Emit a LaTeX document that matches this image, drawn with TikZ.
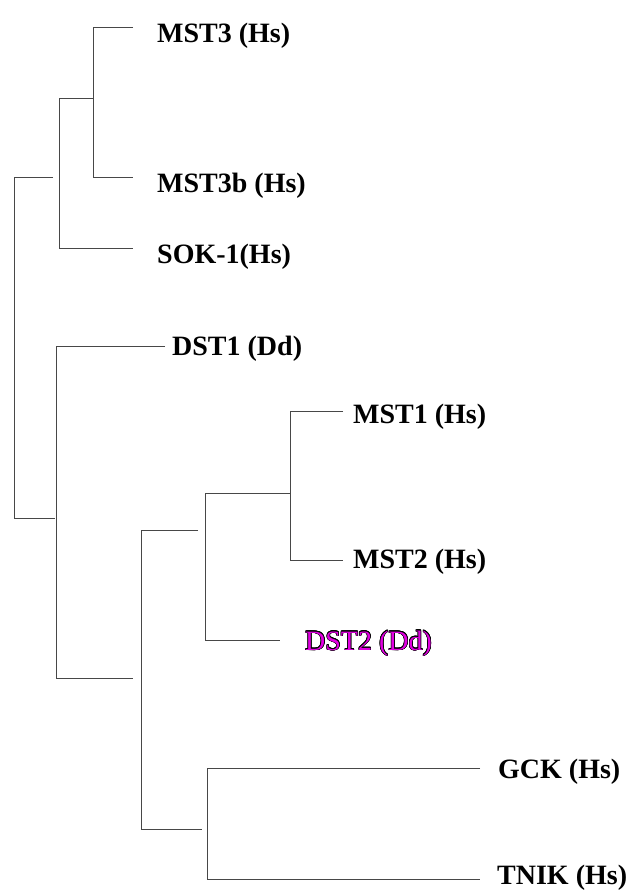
\documentclass[tikz,border=0pt]{standalone}
\usepackage{fontspec}
\setmainfont{Liberation Serif}
\usepackage[copies]{contour}
\contourlength{0.55pt}
\definecolor{dstmag}{RGB}{225,0,225}
\begin{document}
\begin{tikzpicture}[x=1pt,y=-1pt,
  branch/.style={draw=black!72, line width=0.85pt},
  leaf/.style={anchor=base west, inner sep=0pt, font=\fontsize{28}{30}\selectfont\bfseries}]
\useasboundingbox (0,0) rectangle (627,892);

% leaf labels
\node[leaf] (mst3)  at (157,42)  {MST3 (Hs)};
\node[leaf] (mst3b) at (157,192) {MST3b (Hs)};
\node[leaf] (sok1)  at (157,263) {SOK-1(Hs)};
\node[leaf] (dst1)  at (172,355) {DST1 (Dd)};
\node[leaf] (mst1)  at (353,423) {MST1 (Hs)};
\node[leaf] (mst2)  at (353,568) {MST2 (Hs)};
\node[leaf, font=\fontsize{28}{30}\selectfont, text=dstmag] (dst2) at (305,650) {\contour{black}{DST2 (Dd)}};
\node[leaf] (gck)   at (498,778) {GCK (Hs)};
\node[leaf] (tnik)  at (497,884) {TNIK (Hs)};

% branch tips
\coordinate (t3)    at (133,27);
\coordinate (t3b)   at (133,177);
\coordinate (tsok)  at (133,248);
\coordinate (tdst1) at (165,346);
\coordinate (tm1)   at (343,411);
\coordinate (tm2)   at (343,560);
\coordinate (tdst2) at (280,640);
\coordinate (tgck)  at (480,768);
\coordinate (ttnik) at (480,879);

% internal corners and stems
\coordinate (c1) at (93,177);
\coordinate (j1) at (93,98);
\coordinate (c2) at (59,248);
\coordinate (s2) at (53,177);
\coordinate (r)  at (14,518);
\coordinate (s3) at (55,518);
\coordinate (c3) at (56,678);
\coordinate (s4) at (133,678);
\coordinate (s5) at (198,530);
\coordinate (c4) at (141,829);
\coordinate (s7) at (202,829);
\coordinate (j6) at (290,493);
\coordinate (c5) at (205,640);
\coordinate (c6) at (290,560);
\coordinate (c7) at (207,879);

% tree
\draw[branch] (t3) -| (c1) -- (t3b);
\draw[branch] (j1) -| (c2) -- (tsok);
\draw[branch] (s2) -| (r) -- (s3);
\draw[branch] (tdst1) -| (c3) -- (s4);
\draw[branch] (s5) -| (c4) -- (s7);
\draw[branch] (j6) -| (c5) -- (tdst2);
\draw[branch] (tm1) -| (c6) -- (tm2);
\draw[branch] (tgck) -| (c7) -- (ttnik);
\end{tikzpicture}
\end{document}
